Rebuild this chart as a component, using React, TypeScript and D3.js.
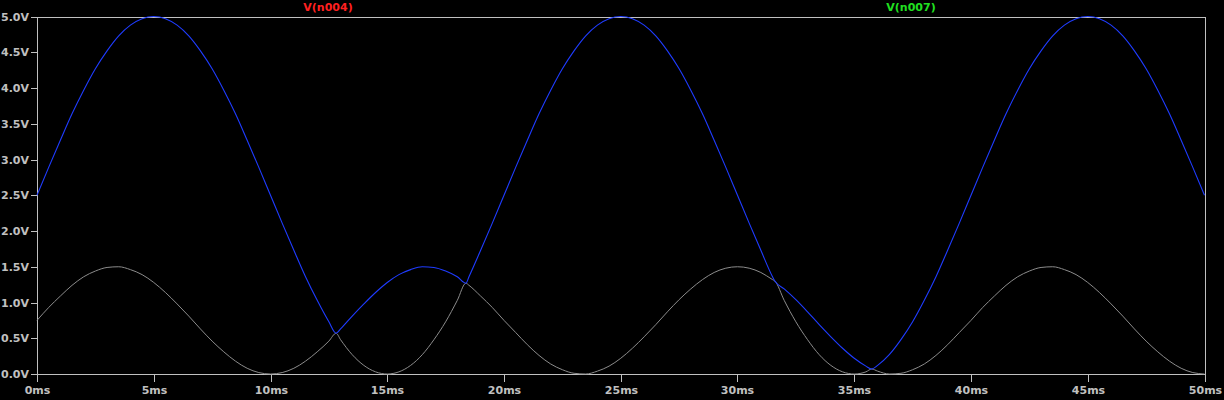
import React from "react";
import * as d3 from "d3";

const timeMs = [
  0, 0.5, 1, 1.5, 2, 2.5, 3, 3.5, 4, 4.5, 5, 5.5, 6, 6.5, 7, 7.5, 8, 8.5, 9, 9.5,
  10, 10.5, 11, 11.5, 12, 12.5, 12.81, 13, 13.5, 14, 14.5, 15, 15.5, 16, 16.5, 17, 17.5, 18, 18.37, 18.5, 19, 19.5,
  20, 20.5, 21, 21.5, 22, 22.5, 23, 23.5, 24, 24.5, 25, 25.5, 26, 26.5, 27, 27.5, 28, 28.5, 29, 29.5,
  30, 30.5, 31, 31.5, 31.6, 32, 32.5, 33, 33.5, 34, 34.5, 35, 35.5, 35.75, 36, 36.5, 37, 37.5, 38, 38.5, 39, 39.5,
  40, 40.5, 41, 41.5, 42, 42.5, 43, 43.5, 44, 44.5, 45, 45.5, 46, 46.5, 47, 47.5, 48, 48.5, 49, 49.5, 50,
];

// upper trace (blue)
const blueV = [
  2.5, 2.89, 3.27, 3.64, 3.97, 4.27, 4.52, 4.73, 4.88, 4.97, 5.0, 4.97, 4.88, 4.73, 4.52, 4.27, 3.97, 3.64, 3.27, 2.89,
  2.5, 2.11, 1.73, 1.36, 1.03, 0.73, 0.57, 0.63, 0.81, 0.98, 1.14, 1.28, 1.39, 1.46, 1.5, 1.49, 1.44, 1.36, 1.27, 1.36, 1.73, 2.11,
  2.5, 2.89, 3.27, 3.64, 3.97, 4.27, 4.52, 4.73, 4.88, 4.97, 5.0, 4.97, 4.88, 4.73, 4.52, 4.27, 3.97, 3.64, 3.27, 2.89,
  2.5, 2.11, 1.73, 1.36, 1.3, 1.19, 1.04, 0.87, 0.69, 0.52, 0.36, 0.22, 0.11, 0.07, 0.12, 0.27, 0.48, 0.73, 1.03, 1.36, 1.73, 2.11,
  2.5, 2.89, 3.27, 3.64, 3.97, 4.27, 4.52, 4.73, 4.88, 4.97, 5.0, 4.97, 4.88, 4.73, 4.52, 4.27, 3.97, 3.64, 3.27, 2.89, 2.5,
];

// lower trace (gray)
const grayV = [
  0.75, 0.93, 1.09, 1.24, 1.36, 1.44, 1.49, 1.5, 1.46, 1.39, 1.28, 1.14, 0.98, 0.81, 0.63, 0.46, 0.31, 0.18, 0.08, 0.02,
  0.0, 0.02, 0.08, 0.18, 0.31, 0.46, 0.57, 0.48, 0.27, 0.12, 0.03, 0.0, 0.03, 0.12, 0.27, 0.48, 0.73, 1.03, 1.27, 1.24, 1.09, 0.93,
  0.75, 0.58, 0.41, 0.26, 0.14, 0.06, 0.01, 0.0, 0.04, 0.11, 0.22, 0.36, 0.52, 0.69, 0.87, 1.04, 1.19, 1.32, 1.42, 1.48,
  1.5, 1.48, 1.42, 1.32, 1.3, 1.03, 0.73, 0.48, 0.27, 0.12, 0.03, 0.0, 0.03, 0.07, 0.04, 0.0, 0.01, 0.06, 0.14, 0.26, 0.41, 0.58,
  0.75, 0.93, 1.09, 1.24, 1.36, 1.44, 1.49, 1.5, 1.46, 1.39, 1.28, 1.14, 0.98, 0.81, 0.63, 0.46, 0.31, 0.18, 0.08, 0.02, 0.0,
];

const xTicks = [0, 5, 10, 15, 20, 25, 30, 35, 40, 45, 50];
const yTicks = [0, 0.5, 1.0, 1.5, 2.0, 2.5, 3.0, 3.5, 4.0, 4.5, 5.0];
const traceLabels = ["V(n004)", "V(n007)"];

const W = 1224;
const H = 400;
const AXIS = "#c0c0c0";
const FONT = "'DejaVu Sans', Verdana, sans-serif";

export default function App() {
  const x = d3.scaleLinear().domain([0, 50]).range([37, 1204.5]);
  const y = d3.scaleLinear().domain([0, 5]).range([374, 16.5]);

  const line = d3
    .line<number>()
    .x((_, i) => x(timeMs[i]))
    .y((d) => y(d))
    .curve(d3.curveMonotoneX);

  const x0 = Math.round(x(0)) + 0.5;
  const x1 = Math.round(x(50)) + 0.5;
  const yTop = Math.round(y(5)) + 0.5;
  const yBot = Math.round(y(0)) + 0.5;

  return (
    <svg
      width={W}
      height={H}
      style={{ position: "absolute", left: 0, top: 0, display: "block" }}
    >
      <rect x={0} y={0} width={W} height={H} fill="#000" />
      {/* frame */}
      <rect
        x={x0}
        y={yTop}
        width={x1 - x0}
        height={yBot - yTop}
        fill="none"
        stroke={AXIS}
        strokeWidth={1}
        shapeRendering="crispEdges"
      />
      {/* y ticks */}
      {yTicks.map((v) => {
        const yy = Math.round(y(v)) + 0.5;
        return (
          <g key={"y" + v}>
            <line x1={x0 - 7} x2={x0} y1={yy} y2={yy} stroke={AXIS} shapeRendering="crispEdges" />
            <text
              x={29}
              y={yy}
              dy="0.36em"
              textAnchor="end"
              fill={AXIS}
              fontFamily={FONT}
              fontWeight="bold"
              fontSize={11}
            >
              {d3.format(".1f")(v) + "V"}
            </text>
          </g>
        );
      })}
      {/* x ticks */}
      {xTicks.map((v) => {
        const xx = Math.round(x(v)) + 0.5;
        return (
          <g key={"x" + v}>
            <line x1={xx} x2={xx} y1={yBot} y2={yBot + 7} stroke={AXIS} shapeRendering="crispEdges" />
            <text
              x={xx}
              y={394}
              textAnchor="middle"
              fill={AXIS}
              fontFamily={FONT}
              fontWeight="bold"
              fontSize={11}
            >
              {v + "ms"}
            </text>
          </g>
        );
      })}
      {/* trace labels */}
      <text x={328} y={11} textAnchor="middle" fill="#ff2020" fontFamily={FONT} fontWeight="bold" fontSize={11}>
        {traceLabels[0]}
      </text>
      <text x={911} y={11} textAnchor="middle" fill="#20e020" fontFamily={FONT} fontWeight="bold" fontSize={11}>
        {traceLabels[1]}
      </text>
      {/* traces */}
      <path d={line(grayV) || ""} fill="none" stroke="#8c8c8c" strokeWidth={1} />
      <path d={line(blueV) || ""} fill="none" stroke="#1f3cff" strokeWidth={1.1} />
    </svg>
  );
}
